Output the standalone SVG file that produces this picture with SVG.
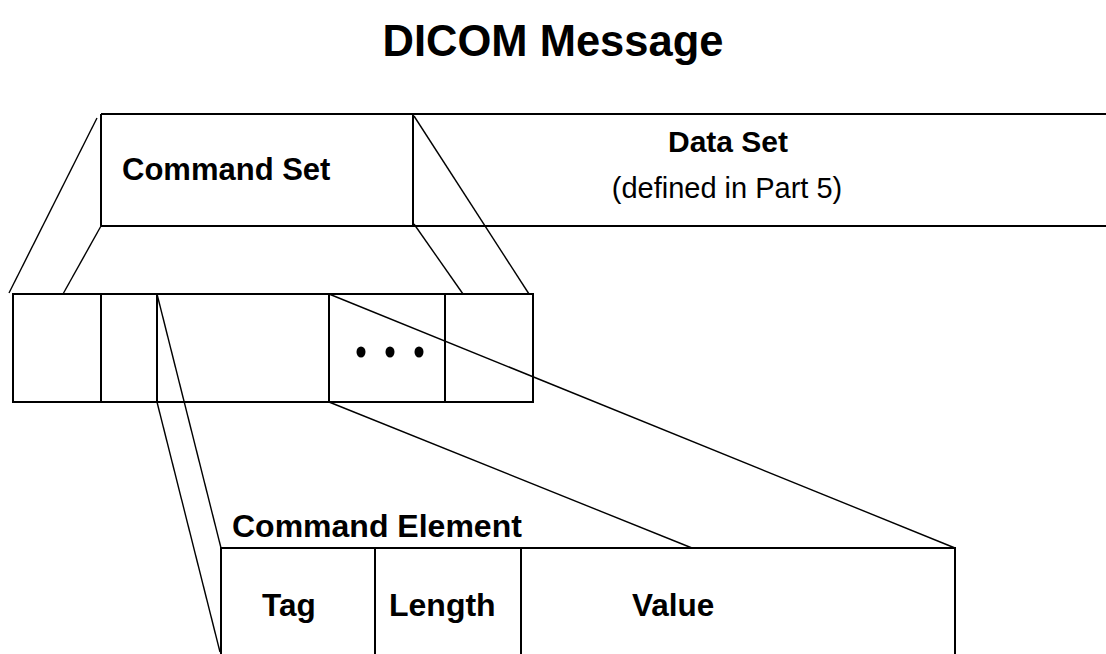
<svg xmlns="http://www.w3.org/2000/svg" width="1106" height="654" viewBox="0 0 1106 654">
<style>
.box{fill:none;stroke:#000;stroke-width:2}
.ln{fill:none;stroke:#000;stroke-width:1.4}
.t{font-family:"Liberation Sans",Arial,sans-serif;fill:#000}
.b{font-weight:bold}
.dot{fill:#000}
</style>
<rect width="1106" height="654" fill="#fff"/>
<text id="title" class="t b" x="553" y="56" font-size="43.5" text-anchor="middle">DICOM Message</text>
<g id="message">
<path class="box" d="M101,114 H1106 M101,226 H1106 M101,114 V226 M413,114 V226"/>
<text class="t b" x="122" y="180" font-size="31">Command Set</text>
<text class="t b" x="728" y="152" font-size="30" text-anchor="middle">Data Set</text>
<text class="t" x="727" y="198" font-size="29" text-anchor="middle">(defined in Part 5)</text>
</g>
<g id="commandset">
<rect class="box" x="13" y="294" width="520" height="108"/>
<path class="box" d="M101,294 V402 M157,294 V402 M329,294 V402 M445,294 V402"/>
<ellipse class="dot" cx="361" cy="352" rx="4.5" ry="5.5"/>
<ellipse class="dot" cx="390" cy="352" rx="4.5" ry="5.5"/>
<ellipse class="dot" cx="419" cy="352" rx="4.5" ry="5.5"/>
</g>
<g id="element">
<path class="box" d="M221,654 V548 H955 V654 M375,548 V654 M521,548 V654"/>
<text class="t b" x="232" y="537" font-size="32">Command Element</text>
<text class="t b" x="262" y="616" font-size="31.5">Tag</text>
<text class="t b" x="389" y="616" font-size="32">Length</text>
<text class="t b" x="632" y="616" font-size="31.5">Value</text>
</g>
<g id="connectors">
<path class="ln" d="M97,118 L9,293"/>
<path class="ln" d="M101,226 L63,294"/>
<path class="ln" d="M414,116 L529,294"/>
<path class="ln" d="M414,224 L463,294"/>
<path class="ln" d="M157,294 L221,548"/>
<path class="ln" d="M157,402 L220,652"/>
<path class="ln" d="M329,294 L955,548"/>
<path class="ln" d="M329,402 L692,548"/>
</g>
</svg>
